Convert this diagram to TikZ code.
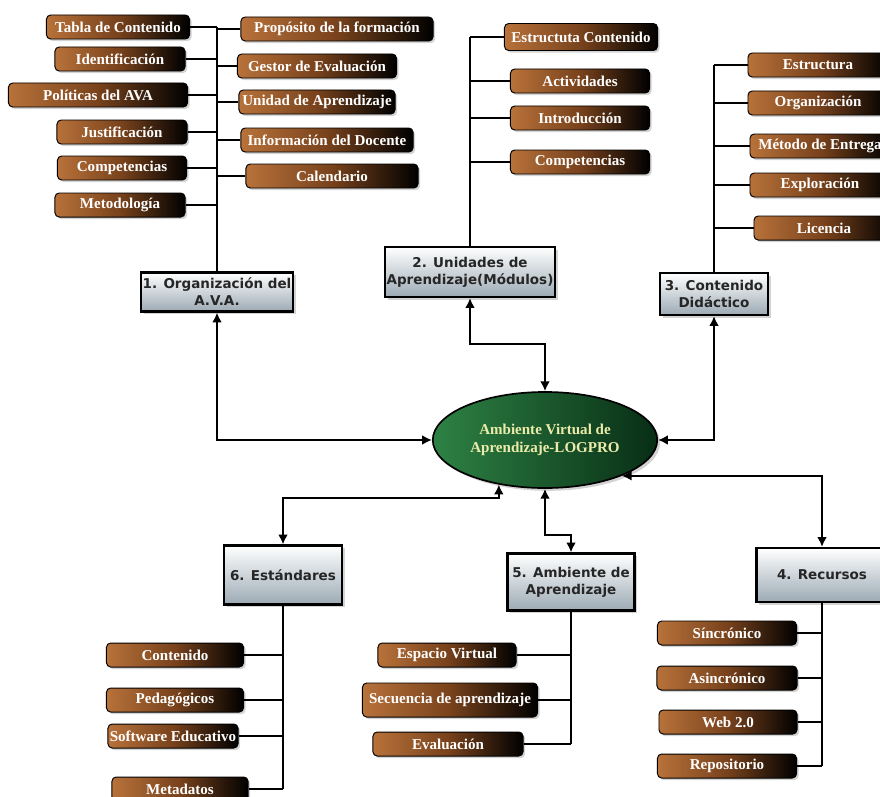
\documentclass[tikz,border=0pt]{standalone}
\usepackage{fontspec}
\setmainfont{Liberation Serif}
\newfontfamily\catfont{DejaVu Sans}
\usetikzlibrary{arrows.meta, shadows, shapes.geometric}
\definecolor{brownL}{RGB}{184,114,58}
\definecolor{brownM}{RGB}{120,66,28}
\definecolor{grayB}{RGB}{156,170,180}
\definecolor{greenL}{RGB}{46,130,68}
\definecolor{greenD}{RGB}{8,46,22}
\definecolor{paleY}{RGB}{236,236,170}
\definecolor{catTxt}{RGB}{38,38,38}

\begin{document}
\begin{tikzpicture}[
  x=0.025cm, y=-0.025cm,
  item/.style={draw=black, line width=0.7pt, rounded corners=3pt, left color=brownL, right color=black, middle color=brownM, text=white, font=\fontsize{10.7}{12}\selectfont\bfseries, minimum height=0.6cm, inner sep=1pt, drop shadow={shadow xshift=1.5pt, shadow yshift=-1.5pt, opacity=0.35}},
  cat/.style={draw=black, line width=1.6pt, top color=white, bottom color=grayB, text=catTxt, font=\catfont\fontsize{9.6}{12}\selectfont\bfseries, align=center, inner sep=1pt, drop shadow={shadow xshift=2pt, shadow yshift=-2pt, opacity=0.35}},
  hub/.style={ellipse, draw=black, line width=1.2pt, left color=greenL, right color=greenD, text=paleY, align=center, font=\fontsize{10.7}{13}\selectfont\bfseries, minimum width=5.1cm, minimum height=2.4cm, drop shadow={shadow xshift=2pt, shadow yshift=-2pt, opacity=0.35}},
  tree/.style={line width=1pt},
  link/.style={{Latex[length=7pt,width=7pt]}-{Latex[length=7pt,width=7pt]}, line width=1.3pt},
]
\clip (0,0) rectangle (880,796);

% ---- hub
\node[hub] (ava) at (545,440) {Ambiente Virtual de\\Aprendizaje-LOGPRO};

% ---- 1. Organizacion del A.V.A.
\node[cat, minimum width=3.775cm, minimum height=0.975cm] (org) at (217,292) {1. Organización del\\A.V.A.};
\node[item, minimum width=3.575cm] (tab) at (118,27) {Tabla de Contenido};
\node[item, minimum width=3.25cm] (ident) at (120,59) {Identificación};
\node[item, minimum width=4.475cm] (pol) at (98,95) {Políticas del AVA};
\node[item, minimum width=3.25cm] (just) at (122,132) {Justificación};
\node[item, minimum width=3.225cm] (comp) at (122,168) {Competencias};
\node[item, minimum width=3.25cm] (met) at (120,205) {Metodología};
\node[item, minimum width=4.8cm] (prop) at (337,29) {Propósito de la formación};
\node[item, minimum width=3.975cm] (gest) at (317,66) {Gestor de Evaluación};
\node[item, minimum width=3.9cm] (unid) at (317,102) {Unidad de Aprendizaje};
\node[item, minimum width=4.3cm] (info) at (327,140) {Información del Docente};
\node[item, minimum width=4.3cm] (cal) at (332,176) {Calendario};
\draw[tree] (org.north) -- (org.north |- tab.east)
  (tab.east) -- (tab.east -| org.north)
  (ident.east) -- (ident.east -| org.north)
  (pol.east) -- (pol.east -| org.north)
  (just.east) -- (just.east -| org.north)
  (comp.east) -- (comp.east -| org.north)
  (met.east) -- (met.east -| org.north)
  (prop.west) -- (prop.west -| org.north)
  (gest.west) -- (gest.west -| org.north)
  (unid.west) -- (unid.west -| org.north)
  (info.west) -- (info.west -| org.north)
  (cal.west) -- (cal.west -| org.north);

% ---- 2. Unidades de Aprendizaje
\node[cat, minimum width=4.25cm, minimum height=1.25cm] (uni) at (470,272) {2. Unidades de\\Aprendizaje(Módulos)};
\node[item, minimum width=3.825cm, minimum height=0.675cm] (estc) at (581,37) {Estructuta Contenido};
\node[item, minimum width=3.475cm] (act) at (580,81) {Actividades};
\node[item, minimum width=3.475cm] (intro) at (580,118) {Introducción};
\node[item, minimum width=3.475cm] (compu) at (580,162) {Competencias};
\draw[tree] (uni.north) -- (uni.north |- estc.west)
  (estc.west) -- (estc.west -| uni.north)
  (act.west) -- (act.west -| uni.north)
  (intro.west) -- (intro.west -| uni.north)
  (compu.west) -- (compu.west -| uni.north);

% ---- 3. Contenido Didactico
\node[cat, minimum width=2.7cm, minimum height=1.05cm] (cont) at (714,294) {3. Contenido\\Didáctico};
\node[item, minimum width=3.5cm] (estr) at (818,65) {Estructura};
\node[item, minimum width=3.5cm] (orga) at (818,103) {Organización};
\node[item, minimum width=3.5cm] (meto) at (820,146) {Método de Entrega};
\node[item, minimum width=3.5cm] (expl) at (820,185) {Exploración};
\node[item, minimum width=3.5cm] (lic) at (824,228) {Licencia};
\draw[tree] (cont.north) -- (cont.north |- estr.west)
  (estr.west) -- (estr.west -| cont.north)
  (orga.west) -- (orga.west -| cont.north)
  (meto.west) -- (meto.west -| cont.north)
  (expl.west) -- (expl.west -| cont.north)
  (lic.west) -- (lic.west -| cont.north);

% ---- 4. Recursos
\node[cat, minimum width=3.275cm, minimum height=1.35cm] (rec) at (822,575) {4. Recursos};
\node[item, minimum width=3.475cm] (sinc) at (727,633) {Síncrónico};
\node[item, minimum width=3.5cm] (asinc) at (727,678) {Asincrónico};
\node[item, minimum width=3.45cm] (web) at (728,722) {Web 2.0};
\node[item, minimum width=3.475cm] (repo) at (727,766) {Repositorio};
\draw[tree] (rec.south) -- (rec.south |- repo.east)
  (sinc.east) -- (sinc.east -| rec.south)
  (asinc.east) -- (asinc.east -| rec.south)
  (web.east) -- (web.east -| rec.south)
  (repo.east) -- (repo.east -| rec.south);

% ---- 5. Ambiente de Aprendizaje
\node[cat, minimum width=3.175cm, minimum height=1.425cm] (amb) at (571,582) {5. Ambiente de\\Aprendizaje};
\node[item, minimum width=3.45cm] (esp) at (447,655) {Espacio Virtual};
\node[item, minimum width=4.375cm, minimum height=0.85cm] (sec) at (450,700) {Secuencia de aprendizaje};
\node[item, minimum width=3.75cm] (eval) at (448,744) {Evaluación};
\draw[tree] (amb.south) -- (amb.south |- eval.east)
  (esp.east) -- (esp.east -| amb.south)
  (sec.east) -- (sec.east -| amb.south)
  (eval.east) -- (eval.east -| amb.south);

% ---- 6. Estandares
\node[cat, minimum width=2.95cm, minimum height=1.475cm] (std) at (283,575) {6. Estándares};
\node[item, minimum width=3.425cm] (conte) at (175,655) {Contenido};
\node[item, minimum width=3.425cm] (peda) at (175,700) {Pedagógicos};
\node[item, minimum width=3.25cm] (soft) at (173,736) {Software Educativo};
\node[item, minimum width=3.4cm] (meta) at (180,789) {Metadatos};
\draw[tree] (std.south) -- (std.south |- meta.east)
  (conte.east) -- (conte.east -| std.south)
  (peda.east) -- (peda.east -| std.south)
  (soft.east) -- (soft.east -| std.south)
  (meta.east) -- (meta.east -| std.south);

% ---- links to the hub
\draw[link] (org.south) |- (ava.west);
\draw[link] (uni.south) -- ++(0,46) -| (ava.north);
\draw[link] (cont.south) |- (ava.east);
\draw[link] (std.north) |- (ava.224 |- 0,498) -- (ava.224);
\draw[link] (amb.north) |- (ava.south |- 0,535) -- (ava.south);
\draw[link] (ava.335) -| (rec.north);
\end{tikzpicture}
\end{document}
